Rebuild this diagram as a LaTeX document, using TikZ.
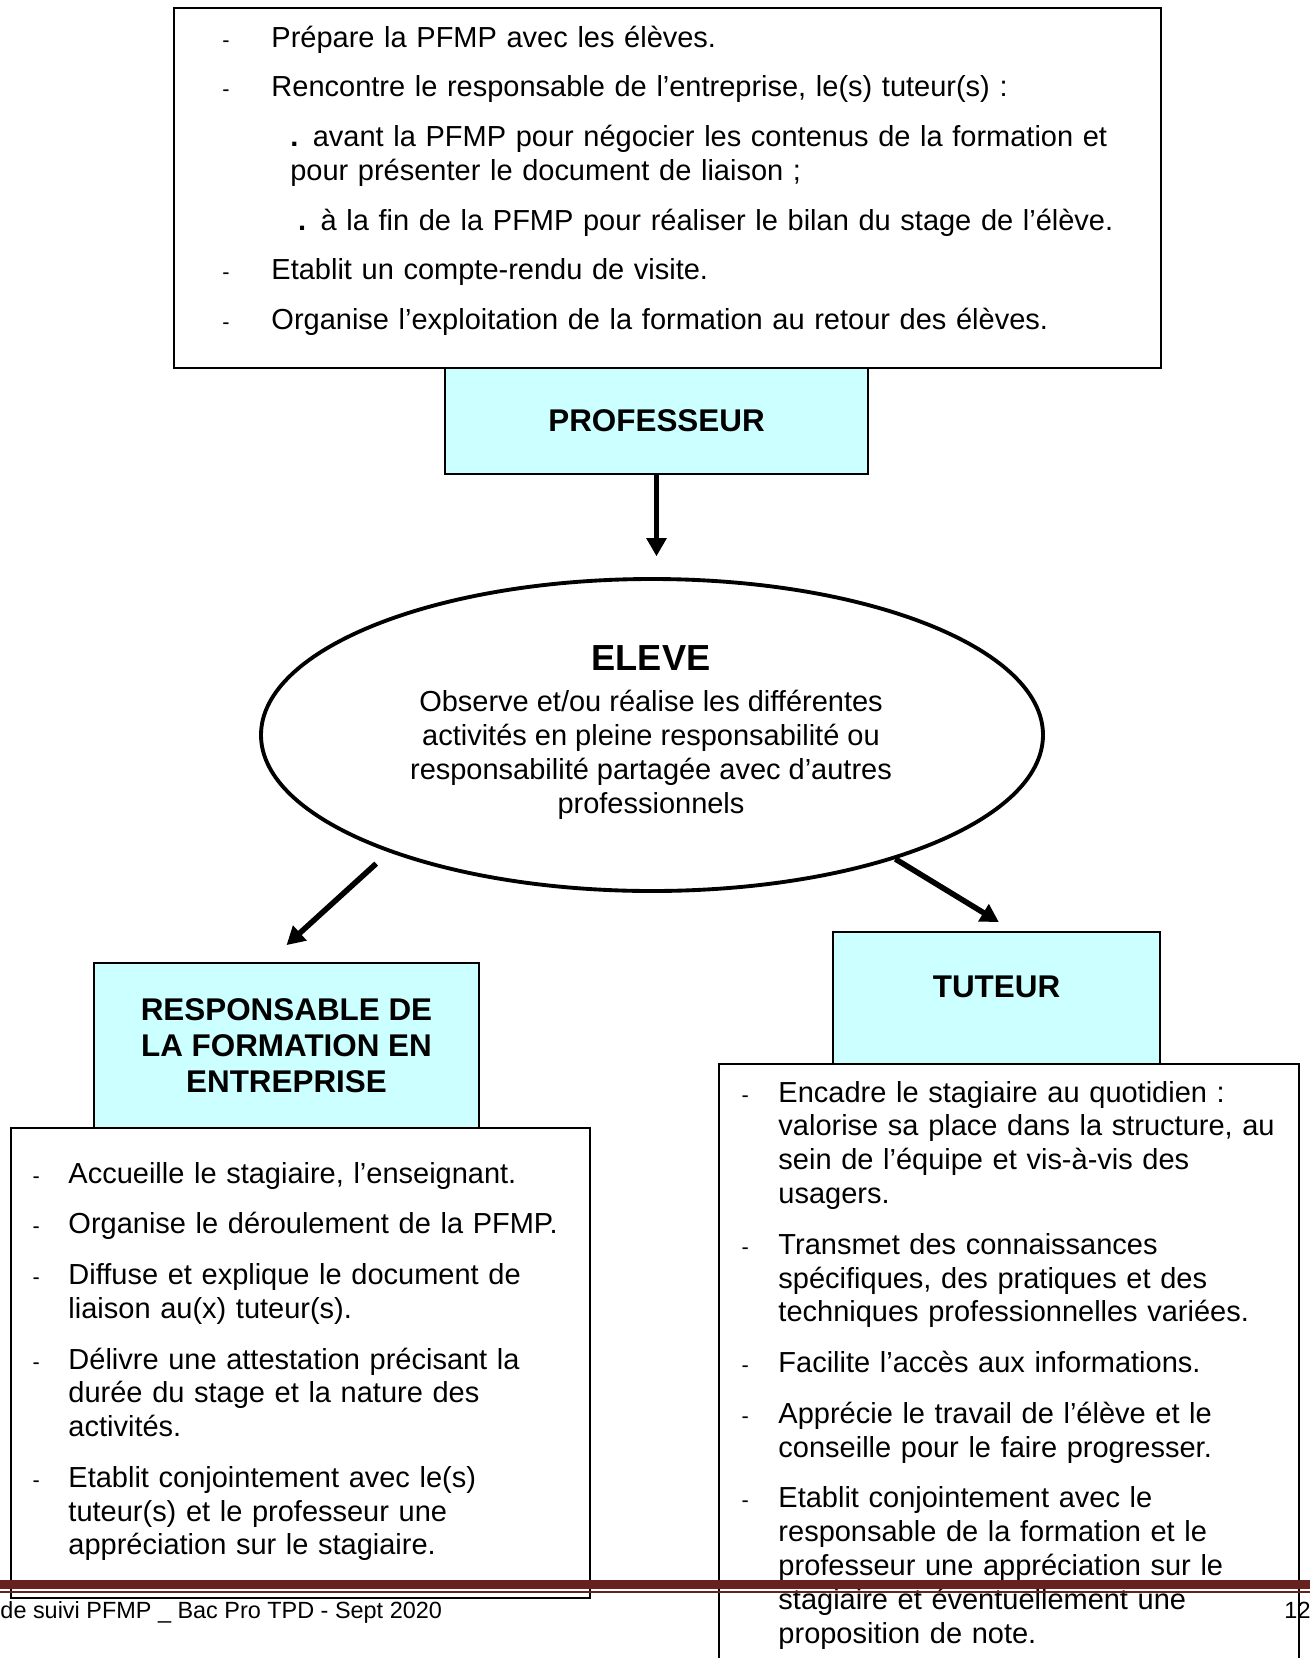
\documentclass[tikz,border=0pt]{standalone}
\usepackage{fontspec}
\setmainfont{Liberation Sans}
\usetikzlibrary{arrows.meta,shapes.geometric}

\definecolor{cyanclair}{HTML}{CCFFFF}
\definecolor{rougepied}{HTML}{67211F}
\newcommand{\pxu}{0.414pt}
\newcommand{\tiret}[1]{\leavevmode\llap{\fontsize{9}{9}\selectfont -\hspace{#1}}}
\newcommand{\retrait}[1]{\leavevmode\hspace*{#1}}

\begin{document}
\begin{tikzpicture}[x=0.414pt,y=-0.414pt,
  cadre/.style={draw, line width=0.8pt, inner sep=0pt},
  entete/.style={cadre, fill=cyanclair, font=\bfseries\fontsize{13}{15}\selectfont, align=center},
  liste/.style={anchor=base west, inner sep=0pt, text width=300pt, align=left,
    font=\fontsize{12}{14}\selectfont, execute at begin node={\setlength{\parskip}{#1}}},
  liste/.default=7pt,
  fleche/.style={-{Triangle[length=7.5pt,width=8pt]}, line width=2.3pt}]
\useasboundingbox (0,0) rectangle (1310,1658);

% cadres
\node (prof-cadre) [cadre, minimum width=987*\pxu, minimum height=360*\pxu] at (667.5,188) {};
\node (prof) [entete, minimum width=423*\pxu, minimum height=106*\pxu] at (656.5,421) {PROFESSEUR};
\node (eleve) [draw, ellipse, line width=1.6pt, inner sep=0pt, minimum width=782*\pxu, minimum height=312*\pxu] at (652,735) {};
\node (resp) [entete, minimum width=385*\pxu, minimum height=165*\pxu] at (286.5,1045.5) {RESPONSABLE DE\\LA FORMATION EN\\ENTREPRISE};
\node (resp-cadre) [cadre, minimum width=579*\pxu, minimum height=470*\pxu] at (300.5,1363) {};
\node (tuteur) [cadre, fill=cyanclair, minimum width=327*\pxu, minimum height=132*\pxu] at (996.5,998) {};
\node (tut-cadre) [cadre, minimum width=580*\pxu, minimum height=640*\pxu] at (1009,1384) {};

% textes
\node (prof-txt) [liste=6.6pt, text width=420pt] at (271,47) {\tiret{17.3pt}Prépare la PFMP avec les élèves.\par
\tiret{17.3pt}Rencontre le responsable de l’entreprise, le(s) tuteur(s) :\par
\retrait{7.8pt}\textbf{.} avant la PFMP pour négocier les contenus de la formation et\\
\hspace*{7.8pt}pour présenter le document de liaison ;\par
\retrait{11pt}\textbf{.} à la fin de la PFMP pour réaliser le bilan du stage de l’élève.\par
\tiret{17.3pt}Etablit un compte-rendu de visite.\par
\tiret{17.3pt}Organise l’exploitation de la formation au retour des élèves.\par};
\node (eleve-titre) [anchor=base, font=\bfseries\fontsize{15}{18}\selectfont] at (651,670) {ELEVE};
\node (eleve-txt) [anchor=base, align=center, font=\fontsize{12}{14}\selectfont] at (651,813) {Observe et/ou réalise les différentes\\activités en pleine responsabilité ou\\responsabilité partagée avec d’autres\\professionnels};
\node (tuteur-titre) [anchor=base, font=\bfseries\fontsize{13}{15}\selectfont] at (996.5,997) {TUTEUR};
\node (resp-txt) [liste] at (68,1183) {\tiret{11.9pt}Accueille le stagiaire, l’enseignant.\par
\tiret{11.9pt}Organise le déroulement de la PFMP.\par
\tiret{11.9pt}Diffuse et explique le document de\\liaison au(x) tuteur(s).\par
\tiret{11.9pt}Délivre une attestation précisant la\\durée du stage et la nature des\\activités.\par
\tiret{11.9pt}Etablit conjointement avec le(s)\\tuteur(s) et le professeur une\\appréciation sur le stagiaire.\par};
\node (tut-txt) [liste] at (778,1102) {\tiret{12.3pt}Encadre le stagiaire au quotidien :\\valorise sa place dans la structure, au\\sein de l’équipe et vis-à-vis des\\usagers.\par
\tiret{12.3pt}Transmet des connaissances\\spécifiques, des pratiques et des\\techniques professionnelles variées.\par
\tiret{12.3pt}Facilite l’accès aux informations.\par
\tiret{12.3pt}Apprécie le travail de l’élève et le\\conseille pour le faire progresser.\par
\tiret{12.3pt}Etablit conjointement avec le\\responsable de la formation et le\\professeur une appréciation sur le\\stagiaire et éventuellement une\\proposition de note.\par};

% fleches
\coordinate (eleve-haut) at ([yshift=8.6pt]eleve.north);
\draw[fleche] (prof.south) -- (prof.south |- eleve-haut);
\draw[fleche, shorten <=7pt] (eleve.204) -- ([yshift=7pt]resp.north);
\draw[fleche] (eleve.333) -- ([xshift=1pt,yshift=3.7pt]tuteur.north);

% pied de page
\fill[rougepied] (0,1580) rectangle (1310,1589);
\fill[rougepied] (0,1591) rectangle (1310,1593);
\node (pied) [anchor=base west, inner sep=0pt, font=\fontsize{9.7}{12}\selectfont] at (0,1618) {de suivi PFMP \_ Bac Pro TPD - Sept 2020};
\node (page) [anchor=base east, inner sep=0pt, font=\fontsize{9.7}{12}\selectfont] at (1311,1618) {12};

\end{tikzpicture}
\end{document}
